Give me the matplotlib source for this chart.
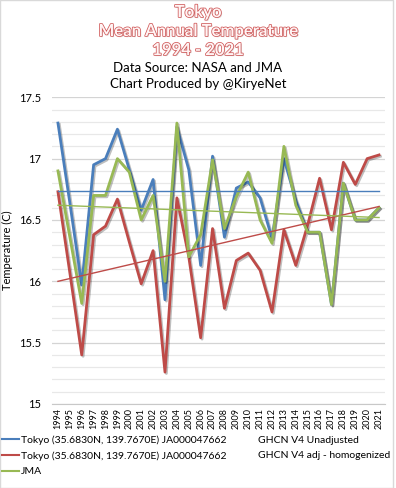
import numpy as np
import matplotlib
matplotlib.use("Agg")
import matplotlib.pyplot as plt
import matplotlib.patheffects as pe
from matplotlib.lines import Line2D
from matplotlib.patches import Rectangle

plt.rcParams['font.family'] = ['Lato', 'DejaVu Sans']

years = list(range(1994, 2022))

# GHCN V4 unadjusted (hidden under JMA from 2016 on)
ghcn_raw = [17.29, 16.64, 15.97, 16.95, 17.00, 17.24, 16.91, 16.58, 16.83, 15.85,
            17.26, 16.91, 16.13, 17.02, 16.36, 16.76, 16.81, 16.68, 16.35, 17.00,
            16.66, 16.40, 16.40, 15.81, 16.80, 16.50, 16.50, 16.60]
# GHCN V4 adjusted / homogenized
ghcn_adj = [16.73, 16.07, 15.40, 16.38, 16.45, 16.67, 16.32, 15.98, 16.25, 15.26,
            16.68, 16.20, 15.54, 16.43, 15.78, 16.17, 16.23, 16.09, 15.75, 16.42,
            16.13, 16.46, 16.84, 16.42, 16.97, 16.79, 17.00, 17.03]
# JMA
jma = [16.90, 16.36, 15.82, 16.70, 16.70, 17.00, 16.89, 16.50, 16.70, 16.00,
       17.29, 16.20, 16.38, 16.99, 16.43, 16.69, 16.89, 16.50, 16.31, 17.10,
       16.62, 16.40, 16.40, 15.81, 16.80, 16.50, 16.50, 16.60]

# linear trend values at 1994 and 2021
trend_raw = [16.74, 16.74]
trend_adj = [16.00, 16.61]
trend_jma = [16.62, 16.52]

label_station = 'Tokyo (35.6830N, 139.7670E) JA000047662'
label_raw = 'GHCN V4 Unadjusted'
label_adj = 'GHCN V4 adj - homogenized'
label_jma = 'JMA'

c_blue = '#4a7ebb'
c_red = '#be4b48'
c_green = '#98b954'

fig = plt.figure(figsize=(3.96, 4.88), dpi=100)
ax = fig.add_axes([52 / 396, 1 - 404 / 488, 333 / 396, (404 - 97.3) / 488])

x = np.arange(len(years))
shadow = [pe.SimpleLineShadow(offset=(1, -1), alpha=0.25), pe.Normal()]

ax.plot(x, ghcn_raw, color=c_blue, lw=2.0, path_effects=shadow, zorder=3)
ax.plot(x, ghcn_adj, color=c_red, lw=2.0, path_effects=shadow, zorder=4)
ax.plot(x, jma, color=c_green, lw=2.0, path_effects=shadow, zorder=5)

ends = [x[0], x[-1]]
ax.plot(ends, trend_raw, color=c_blue, lw=1.0, zorder=6)
ax.plot(ends, trend_adj, color=c_red, lw=1.0, zorder=6)
ax.plot(ends, trend_jma, color=c_green, lw=1.0, zorder=6)

ax.set_xlim(-0.5, len(years) - 0.5)
ax.set_ylim(15, 17.5)
ax.set_yticks(np.arange(15, 17.51, 0.5))
ax.set_yticklabels(['15', '15.5', '16', '16.5', '17', '17.5'], fontsize=8)
ax.set_yticks(np.arange(15, 17.51, 0.1), minor=True)
ax.grid(axis='y', which='major', color='#d4d4d4', lw=0.9, zorder=0)
ax.grid(axis='y', which='minor', color='#e8e8e8', lw=0.9, zorder=0)
ax.set_xticks(x)
ax.set_xticklabels([str(y) for y in years], rotation=90, fontsize=6.5)
ax.tick_params(axis='both', which='both', length=0)
ax.tick_params(axis='y', pad=8)
ax.tick_params(axis='x', pad=3)
for s in ['top', 'right', 'left']:
    ax.spines[s].set_visible(False)
ax.spines['bottom'].set_color('#c8c8c8')
ax.set_ylabel('Temperature (C)', fontsize=8, labelpad=4)

# titles: hollow red letters
outline = [pe.SimplePatchShadow(offset=(0.8, -0.8), alpha=0.2),
           pe.withStroke(linewidth=1.1, foreground='#d05858')]
for txt, yy in [('Tokyo', 12), ('Mean Annual Temperature', 31), ('1994 - 2021', 50)]:
    fig.text(0.5, 1 - yy / 488, txt, ha='center', va='center', fontsize=12,
             fontweight='bold', color='#fff4f4', path_effects=outline)
fig.text(0.5, 1 - 68 / 488, 'Data Source: NASA and JMA', ha='center', va='center', fontsize=9.5)
fig.text(0.5, 1 - 84 / 488, 'Chart Produced by @KiryeNet', ha='center', va='center', fontsize=9.5)

# legend: two columns, second column holds the data set names
blank = Line2D([], [], color='none')
handles = [Line2D([], [], color=c_blue, lw=1.5),
           Line2D([], [], color=c_red, lw=1.5),
           Line2D([], [], color=c_green, lw=1.5),
           blank, blank, blank]
labels = [label_station, label_station, label_jma, label_raw, label_adj, '']
fig.legend(handles, labels, ncol=2, loc='upper left', bbox_to_anchor=(0.0, 1 - 433 / 488),
           frameon=False, fontsize=7.5, handlelength=1.6, handletextpad=0.2,
           columnspacing=1.2, labelspacing=0.62, borderaxespad=0, borderpad=0.2)

fig.add_artist(Rectangle((0, 0), 0.993, 1, transform=fig.transFigure, fill=False,
                         edgecolor='#d9d9d9', lw=1))

fig.savefig('out.png', dpi=100)
